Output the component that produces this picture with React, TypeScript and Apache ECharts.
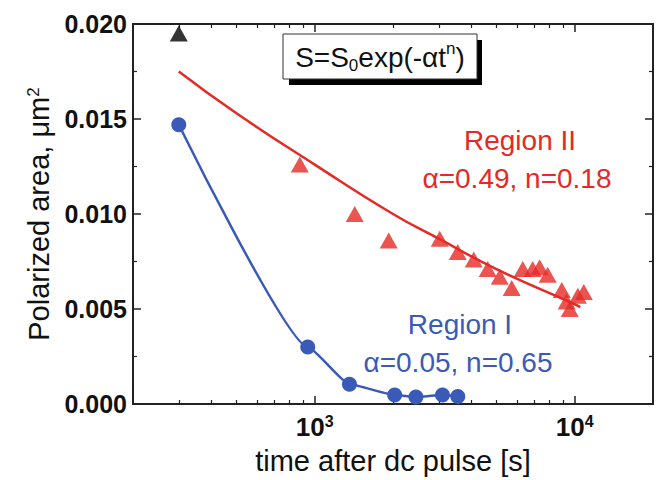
import React, { useEffect, useRef } from 'react';
import * as echarts from 'echarts';

// time after dc pulse [s] and polarized area [um^2]
const regionITime = [300, 940, 1360, 2030, 2450, 3100, 3550];
const regionIArea = [0.0147, 0.003, 0.00104, 0.00047, 0.00037, 0.00047, 0.0004];

const regionIITime = [876, 1425, 1926, 3025, 3548, 4089, 4625, 5147, 5723, 6310, 6890, 7328, 7870, 8913, 9311, 9570, 10280, 10840];
const regionIIArea = [0.0126, 0.01, 0.0086, 0.0087, 0.008, 0.0076, 0.0071, 0.0067, 0.0061, 0.0071, 0.0071, 0.0072, 0.0068, 0.006, 0.0054, 0.005, 0.0057, 0.0059];

const firstPointTime = [300];
const firstPointArea = [0.0195];

const fitIITime = [300, 500, 1000, 2000, 3000, 5000, 10000, 10500];
const fitIIArea = [0.0175, 0.0153, 0.0126, 0.01, 0.0087, 0.0071, 0.00525, 0.0051];

const xMajorTicks = [1000, 10000];
const xMinorTicks = [300, 400, 500, 600, 700, 800, 900, 2000, 3000, 4000, 5000, 6000, 7000, 8000, 9000];
const yTicks = { min: 0, max: 0.02, interval: 0.005 };

const RED = '#e52a25';
const BLUE = '#3a5ab8';
const AXIS = '#222222';
const FONT = '"Liberation Sans", Arial, sans-serif';

function pairs(xs: number[], ys: number[]) {
  return xs.map((x, i) => [x, ys[i]]);
}

export default function App() {
  const ref = useRef<HTMLDivElement>(null);
  useEffect(() => {
    const chart = echarts.init(ref.current!, null, { renderer: 'svg' });
    const xBase = { type: 'log', logBase: 10, min: 200, max: 20000, gridIndex: 0, splitLine: { show: false } };
    const lineStyle = { color: AXIS, width: 2 };
    const option: any = {
      animation: false,
      textStyle: { fontFamily: FONT },
      grid: { left: 133, right: 3, top: 24, bottom: 73, containLabel: false },
      xAxis: [
        {
          ...xBase,
          position: 'bottom',
          name: 'time after dc pulse [s]',
          nameLocation: 'middle',
          nameGap: 42,
          nameTextStyle: { fontSize: 29, color: '#111', fontFamily: FONT },
          axisLine: { show: true, onZero: false, lineStyle },
          axisTick: { show: true, inside: true, length: 8, customValues: xMajorTicks, lineStyle: { color: AXIS, width: 1.5 } },
          axisLabel: {
            show: true,
            customValues: xMajorTicks,
            margin: 9,
            formatter: (v: number) => {
              const e = Math.round(Math.log10(v));
              if (Math.abs(v - Math.pow(10, e)) > 1e-6 * v) return '';
              return `{b|10}{s|${e}}`;
            },
            rich: {
              b: { fontSize: 26, fontWeight: 'bold', color: '#111', fontFamily: FONT, lineHeight: 28 },
              s: { fontSize: 16, fontWeight: 'bold', color: '#111', fontFamily: FONT, verticalAlign: 'top', lineHeight: 15 },
            },
          },
        },
        {
          ...xBase,
          position: 'bottom',
          axisLine: { show: false, onZero: false },
          axisTick: { show: true, inside: true, length: 4, customValues: xMinorTicks, lineStyle: { color: AXIS, width: 1.2 } },
          axisLabel: { show: false },
        },
        {
          ...xBase,
          position: 'top',
          axisLine: { show: true, onZero: false, lineStyle },
          axisTick: { show: true, inside: true, length: 8, customValues: xMajorTicks, lineStyle: { color: AXIS, width: 1.5 } },
          axisLabel: { show: false },
        },
        {
          ...xBase,
          position: 'top',
          axisLine: { show: false, onZero: false },
          axisTick: { show: true, inside: true, length: 4, customValues: xMinorTicks, lineStyle: { color: AXIS, width: 1.2 } },
          axisLabel: { show: false },
        },
      ],
      yAxis: [
        {
          type: 'value',
          position: 'left',
          ...yTicks,
          name: 'Polarized area, μm{s|2}',
          nameLocation: 'middle',
          nameRotate: 90,
          nameGap: 78,
          nameTextStyle: {
            fontSize: 29,
            color: '#111',
            fontFamily: FONT,
            rich: { s: { fontSize: 17, color: '#111', fontFamily: FONT, verticalAlign: 'top', lineHeight: 17 } },
          },
          splitLine: { show: false },
          axisLine: { show: true, onZero: false, lineStyle },
          axisTick: { show: true, inside: true, length: 8, lineStyle: { color: AXIS, width: 1.5 } },
          minorTick: { show: true, splitNumber: 2, length: 4, lineStyle: { color: AXIS, width: 1.2 } },
          axisLabel: {
            margin: 6,
            fontSize: 25,
            fontWeight: 'bold',
            color: '#111',
            fontFamily: FONT,
            formatter: (v: number) => v.toFixed(3),
          },
        },
        {
          type: 'value',
          position: 'right',
          ...yTicks,
          splitLine: { show: false },
          axisLine: { show: true, onZero: false, lineStyle },
          axisTick: { show: true, inside: true, length: 8, lineStyle: { color: AXIS, width: 1.5 } },
          minorTick: { show: true, splitNumber: 2, length: 4, lineStyle: { color: AXIS, width: 1.2 } },
          axisLabel: { show: false },
        },
      ],
      graphic: [
        { type: 'rect', shape: { x: 289, y: 40, width: 193, height: 45 }, style: { fill: '#000' }, z: 10 },
        { type: 'rect', shape: { x: 283, y: 34, width: 194, height: 45 }, style: { fill: '#fff', stroke: '#333', lineWidth: 1 }, z: 11 },
        {
          type: 'text',
          x: 380,
          y: 57,
          z: 12,
          style: {
            text: '{n|S=S}{d|0}{n|exp(-αt}{u|n}{n|)}',
            align: 'center',
            verticalAlign: 'middle',
            rich: {
              n: { fontSize: 28, fill: '#111', fontFamily: FONT, lineHeight: 34 },
              d: { fontSize: 17, fill: '#111', fontFamily: FONT, verticalAlign: 'bottom', lineHeight: 17 },
              u: { fontSize: 17, fill: '#111', fontFamily: FONT, verticalAlign: 'top', lineHeight: 17 },
            },
          },
        },
        { type: 'text', x: 520, y: 140, z: 12, style: { text: 'Region II', fill: RED, fontSize: 28, fontFamily: FONT, align: 'center', verticalAlign: 'middle' } },
        { type: 'text', x: 517, y: 178, z: 12, style: { text: 'α=0.49, n=0.18', fill: RED, fontSize: 28, fontFamily: FONT, align: 'center', verticalAlign: 'middle' } },
        { type: 'text', x: 460, y: 324, z: 12, style: { text: 'Region I', fill: BLUE, fontSize: 28, fontFamily: FONT, align: 'center', verticalAlign: 'middle' } },
        { type: 'text', x: 458, y: 362, z: 12, style: { text: 'α=0.05, n=0.65', fill: BLUE, fontSize: 28, fontFamily: FONT, align: 'center', verticalAlign: 'middle' } },
      ],
      series: [
        {
          type: 'line',
          xAxisIndex: 0,
          yAxisIndex: 0,
          data: pairs(fitIITime, fitIIArea),
          showSymbol: false,
          smooth: true,
          lineStyle: { color: RED, width: 2.5 },
          z: 2,
        },
        {
          type: 'scatter',
          xAxisIndex: 0,
          yAxisIndex: 0,
          data: pairs(regionIITime, regionIIArea),
          symbol: 'triangle',
          symbolSize: [18, 16],
          itemStyle: { color: RED },
          z: 3,
        },
        {
          type: 'scatter',
          xAxisIndex: 0,
          yAxisIndex: 0,
          data: pairs(firstPointTime, firstPointArea),
          symbol: 'triangle',
          symbolSize: [18, 16],
          itemStyle: { color: '#000' },
          z: 3,
        },
        {
          type: 'line',
          xAxisIndex: 0,
          yAxisIndex: 0,
          data: pairs(regionITime, regionIArea),
          symbol: 'circle',
          symbolSize: 15,
          showSymbol: true,
          smooth: 0.15,
          smoothMonotone: 'x',
          lineStyle: { color: BLUE, width: 2.5 },
          itemStyle: { color: BLUE },
          z: 4,
        },
      ],
    };
    chart.setOption(option);
    return () => chart.dispose();
  }, []);
  return <div ref={ref} style={{ position: 'absolute', left: 0, top: 0, width: 656, height: 480 }} />;
}
